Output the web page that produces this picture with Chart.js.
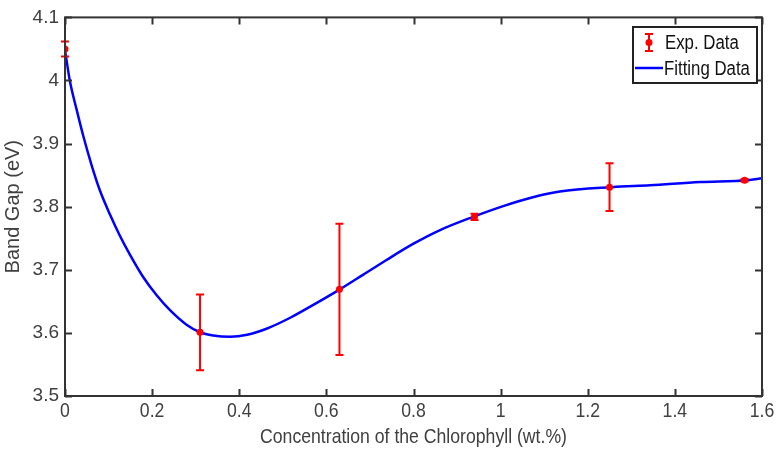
<!DOCTYPE html>
<html>
<head>
<meta charset="utf-8">
<script src="https://cdn.jsdelivr.net/npm/chart.js@4.4.1/dist/chart.umd.min.js"></script>
<style>
  html, body { margin: 0; padding: 0; background: #fff; }
  #wrap { width: 777px; height: 455px; }
</style>
</head>
<body>
<div id="wrap"><canvas id="chart" width="777" height="455"></canvas></div>
<script>
// measured points with symmetric error
const expX = [0, 0.31, 0.63, 0.94, 1.25, 1.56];
const expY = [4.05, 3.601, 3.669, 3.784, 3.831, 3.842];
const expErr = [0.012, 0.06, 0.104, 0.005, 0.038, 0.002];

// fitted curve
const fitX = [0, 0.011, 0.027, 0.042, 0.061, 0.080, 0.103, 0.126, 0.149, 0.179, 0.210, 0.241, 0.279,
    0.310, 0.340, 0.379, 0.418, 0.464, 0.517, 0.569, 0.631, 0.684, 0.739, 0.799, 0.861, 0.937, 1.006,
    1.074, 1.136, 1.256, 1.343, 1.458, 1.566, 1.6];
const fitY = [4.048, 4.000, 3.953, 3.912, 3.866, 3.826, 3.788, 3.754, 3.724, 3.689, 3.660, 3.636, 3.613,
    3.601, 3.596, 3.594, 3.597, 3.607, 3.624, 3.644, 3.669, 3.692, 3.716, 3.741, 3.763, 3.784, 3.801,
    3.815, 3.824, 3.831, 3.834, 3.839, 3.842, 3.845];

const xTicks = [0, 0.2, 0.4, 0.6, 0.8, 1, 1.2, 1.4, 1.6];
const xTickLabels = ['0', '0.2', '0.4', '0.6', '0.8', '1', '1.2', '1.4', '1.6'];
const yTicks = [3.5, 3.6, 3.7, 3.8, 3.9, 4, 4.1];
const yTickLabels = ['3.5', '3.6', '3.7', '3.8', '3.9', '4', '4.1'];

const FONT = "'Liberation Sans', Arial, sans-serif";
const TEXT = '#404040';
const AXIS = '#333333';

// squeezed text, the picture has narrow lettering on the x axis and legend
function narrowText(ctx, text, x, y, size, sx, align, color) {
    ctx.save();
    ctx.translate(x, y);
    ctx.scale(sx, 1);
    ctx.font = size + 'px ' + FONT;
    ctx.fillStyle = color;
    ctx.textAlign = align;
    ctx.textBaseline = 'middle';
    ctx.fillText(text, 0, 0);
    ctx.restore();
}

const frame = {
    id: 'frame',
    afterDatasetsDraw(chart) {
        const { ctx, chartArea: a, scales: { x, y } } = chart;
        ctx.save();
        // error bars
        ctx.strokeStyle = '#ff0000';
        ctx.lineWidth = 2;
        expX.forEach((v, i) => {
            const px = x.getPixelForValue(v);
            const top = y.getPixelForValue(expY[i] + expErr[i]);
            const bot = y.getPixelForValue(expY[i] - expErr[i]);
            ctx.beginPath();
            ctx.moveTo(px, top); ctx.lineTo(px, bot);
            ctx.moveTo(px - 4, top); ctx.lineTo(px + 4, top);
            ctx.moveTo(px - 4, bot); ctx.lineTo(px + 4, bot);
            ctx.stroke();
        });
        // box and inward ticks
        ctx.strokeStyle = AXIS;
        ctx.lineWidth = 2;
        ctx.strokeRect(a.left, a.top, a.right - a.left, a.bottom - a.top);
        ctx.beginPath();
        xTicks.forEach(v => {
            const px = Math.round(x.getPixelForValue(v)) + 0.5;
            ctx.moveTo(px, a.bottom); ctx.lineTo(px, a.bottom - 7);
            ctx.moveTo(px, a.top); ctx.lineTo(px, a.top + 7);
        });
        yTicks.forEach(v => {
            const py = Math.round(y.getPixelForValue(v)) + 0.5;
            ctx.moveTo(a.left, py); ctx.lineTo(a.left + 7, py);
            ctx.moveTo(a.right, py); ctx.lineTo(a.right - 7, py);
        });
        ctx.stroke();

        // x tick labels and title
        xTicks.forEach((v, i) => {
            narrowText(ctx, xTickLabels[i], x.getPixelForValue(v), a.bottom + 15, 21, 0.84, 'center', TEXT);
        });
        narrowText(ctx, 'Concentration of the Chlorophyll (wt.%)', (a.left + a.right) / 2, 437, 21, 0.84, 'center', TEXT);

        // legend
        const lx = 633, ly = 27, lw = 124, lh = 56;
        ctx.fillStyle = '#fff';
        ctx.fillRect(lx, ly, lw, lh);
        ctx.strokeStyle = '#222';
        ctx.lineWidth = 2;
        ctx.strokeRect(lx, ly, lw, lh);
        ctx.strokeStyle = '#ff0000';
        ctx.beginPath();
        ctx.moveTo(649, 34); ctx.lineTo(649, 51);
        ctx.moveTo(645, 34); ctx.lineTo(653, 34);
        ctx.moveTo(645, 51); ctx.lineTo(653, 51);
        ctx.stroke();
        ctx.fillStyle = '#ff0000';
        ctx.beginPath();
        ctx.arc(649, 42.5, 3.5, 0, Math.PI * 2);
        ctx.fill();
        ctx.strokeStyle = '#0000ff';
        ctx.lineWidth = 2.5;
        ctx.beginPath();
        ctx.moveTo(635, 68); ctx.lineTo(663, 68);
        ctx.stroke();
        narrowText(ctx, 'Exp. Data', 665, 43, 20, 0.84, 'left', '#111');
        narrowText(ctx, 'Fitting Data', 664, 69, 20, 0.84, 'left', '#111');
        ctx.restore();
    }
};

new Chart(document.getElementById('chart'), {
    type: 'scatter',
    data: {
        datasets: [{
            label: 'Exp. Data',
            data: expX.map((v, i) => ({ x: v, y: expY[i] })),
            showLine: false,
            pointRadius: 3.5,
            pointBackgroundColor: '#ff0000',
            pointBorderWidth: 0,
            order: 1,
        }, {
            label: 'Fitting Data',
            data: fitX.map((v, i) => ({ x: v, y: fitY[i] })),
            showLine: true,
            borderColor: '#0000ff',
            borderWidth: 2.5,
            pointRadius: 0,
            cubicInterpolationMode: 'monotone',
            order: 2,
        }]
    },
    options: {
        responsive: false,
        animation: false,
        layout: { padding: { top: 17, right: 15, left: 0, bottom: 0 } },
        plugins: { legend: { display: false }, tooltip: { enabled: false } },
        scales: {
            x: {
                type: 'linear',
                min: 0,
                max: 1.6,
                afterBuildTicks: s => { s.ticks = xTicks.map(v => ({ value: v })); },
                afterFit: s => { s.height = 59; },
                grid: { display: false, drawTicks: false },
                border: { display: false },
                ticks: { display: false },
            },
            y: {
                type: 'linear',
                min: 3.5,
                max: 4.1,
                afterBuildTicks: s => { s.ticks = yTicks.map(v => ({ value: v })); },
                afterFit: s => { s.width = 65; },
                grid: { display: false, drawTicks: false },
                border: { display: false },
                ticks: {
                    padding: 6,
                    color: TEXT,
                    font: { family: FONT, size: 19 },
                    callback: (v, i) => yTickLabels[i],
                },
                title: {
                    display: true,
                    text: 'Band Gap (eV)',
                    color: TEXT,
                    font: { family: FONT, size: 20 },
                    padding: { top: 1, bottom: 0 },
                },
            },
        },
    },
    plugins: [frame],
});
</script>
</body>
</html>
